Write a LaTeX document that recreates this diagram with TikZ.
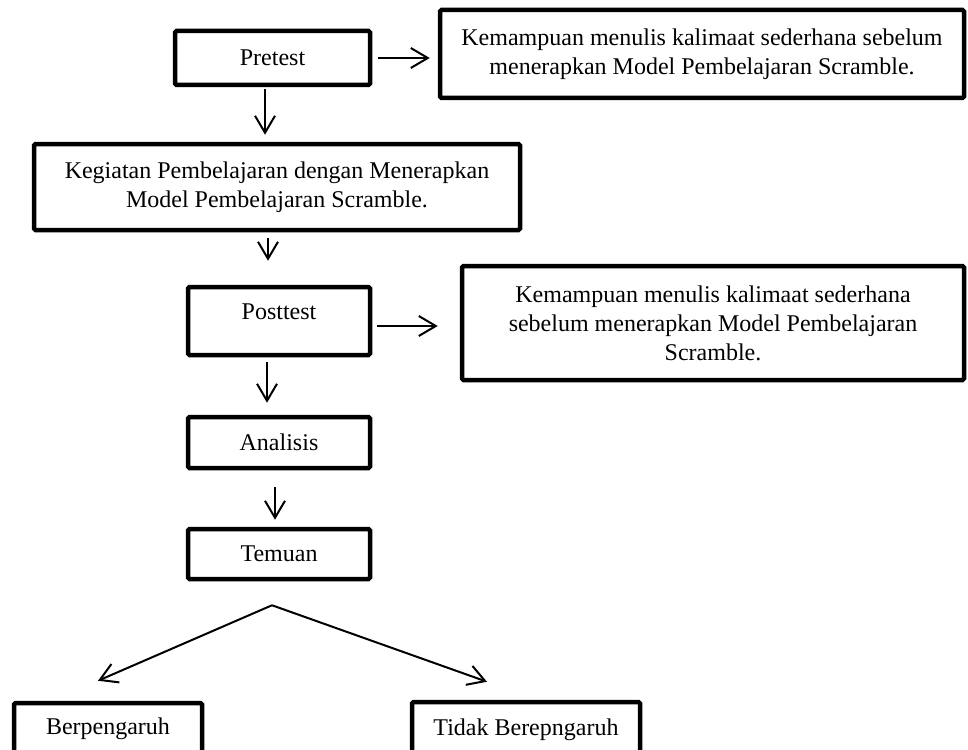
\documentclass[tikz,border=0pt]{standalone}
\usepackage{fontspec}
\setmainfont{Liberation Serif}
\usetikzlibrary{arrows.meta, positioning, calc}

\begin{document}
\begin{tikzpicture}
   [
      x=1pt, y=-1pt,
      box/.style={rectangle, draw, line width=4.5pt, rounded corners=1.5pt,
                  inner sep=0pt, align=center,
                  font=\fontsize{24}{29}\selectfont},
      arrow/.style={line width=2pt, -{Straight Barb[length=17pt, width=20pt]}}
   ]

   \useasboundingbox (0,0) rectangle (968,749);
   \clip (0,0) rectangle (968,749);

   % =======================================================
   % Upper part: Pretest, treatment, Posttest
   % =======================================================

   % Boxes
   \node[box, minimum width=195pt, minimum height=54pt] (pretest) at (272.5,58) {Pretest};
   \node[box, minimum width=524pt, minimum height=88pt] (ket_pre) at (702,54)
      {Kemampuan menulis kalimaat sederhana sebelum\\ menerapkan Model Pembelajaran Scramble.};
   \node[box, minimum width=486pt, minimum height=86pt] (kegiatan) at (277,187)
      {Kegiatan Pembelajaran dengan Menerapkan\\ Model Pembelajaran Scramble.};
   \node[box, minimum width=182pt, minimum height=68pt, text depth=18pt] (posttest) at (279,321) {Posttest};
   \node[box, minimum width=502pt, minimum height=114pt] (ket_post) at (713,323)
      {Kemampuan menulis kalimaat sederhana\\ sebelum menerapkan Model Pembelajaran\\ Scramble.};

   % Arrows
   \draw[arrow] ($(pretest.east)+(6,0)$) -- ($(ket_pre.west |- pretest.east)+(-8,0)$);
   \draw[arrow] ($(pretest.south)+(-7.5,2)$) -- ($(kegiatan.north)+(-12,-7)$);
   \draw[arrow] ($(kegiatan.south)+(-9,6)$) -- ($(posttest.north)+(-11,-24)$);
   \draw[arrow] ($(posttest.east)+(5,5)$) -- ($(ket_post.west)+(-22,3)$);

   % =======================================================
   % Lower part: Analisis, Temuan and the two results
   % =======================================================

   % Boxes
   \node[box, minimum width=182pt, minimum height=51pt] (analisis) at (279,442.5) {Analisis};
   \node[box, minimum width=182pt, minimum height=50pt] (temuan) at (279,554) {Temuan};
   \node[box, minimum width=188pt, minimum height=52pt] (berpengaruh) at (108,729) {Berpengaruh};
   \node[box, minimum width=228pt, minimum height=56pt] (tidak) at (526,730) {Tidak Berepngaruh};

   % Arrows
   \draw[arrow] ($(posttest.south)+(-12,5)$) -- ($(analisis.north)+(-12,-12)$);
   \draw[arrow] ($(analisis.south)+(-4,17)$) -- ($(temuan.north)+(-4,-7)$);

   % Split point below Temuan
   \coordinate (split) at ($(temuan.south)+(-7,24)$);
   \draw[arrow] (split) -- ($(berpengaruh.north)+(-10,-20)$);
   \draw[arrow] (split) -- ($(tidak.north)+(-39,-18)$);

\end{tikzpicture}
\end{document}
